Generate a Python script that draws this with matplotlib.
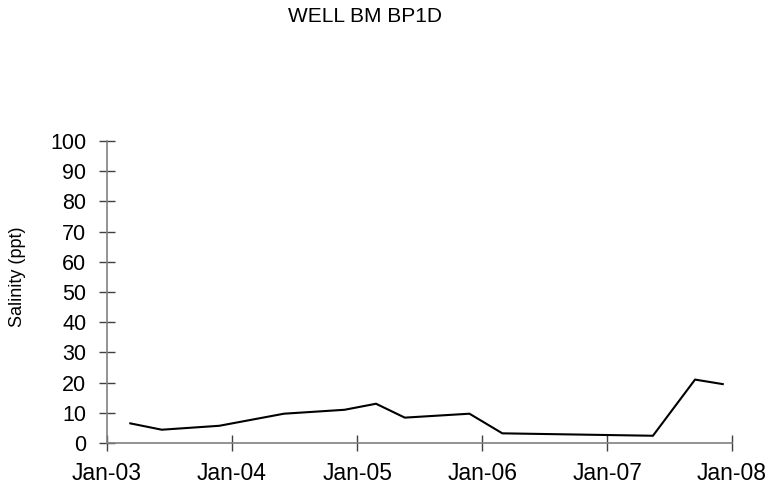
import matplotlib
matplotlib.use("Agg")
import matplotlib.pyplot as plt
import matplotlib.dates as mdates
from datetime import datetime

plt.rcParams['font.family'] = ['Liberation Sans', 'DejaVu Sans']

dates = ["2003-03-10", "2003-06-10", "2003-11-25", "2004-06-01", "2004-11-25",
         "2005-02-25", "2005-05-20", "2005-11-25", "2006-03-01", "2007-05-15",
         "2007-09-15", "2007-12-05"]
salinity = [6.5, 4.4, 5.7, 9.7, 11.0, 13.0, 8.4, 9.7, 3.2, 2.4, 21.0, 19.5]
title = "WELL BM BP1D"
ylabel = "Salinity (ppt)"

x = [datetime.strptime(d, "%Y-%m-%d") for d in dates]

fig = plt.figure(figsize=(7.72, 4.91), dpi=100)
ax = fig.add_axes([107/772, 48/491, 625/772, 302/491])
ax.plot(x, salinity, color="black", lw=1.5)

ax.set_xlim(datetime(2003, 1, 1), datetime(2008, 1, 1))
ax.set_ylim(0, 100)
ax.set_yticks(range(0, 101, 10))
ax.xaxis.set_major_locator(mdates.YearLocator())
ax.xaxis.set_major_formatter(mdates.DateFormatter('%b-%y'))

for s in ["top", "right"]:
    ax.spines[s].set_visible(False)
for s in ["left", "bottom"]:
    ax.spines[s].set_color("#808080")
    ax.spines[s].set_linewidth(1.2)
ax.tick_params(axis="both", direction="inout", length=12, width=1, color="#404040")
ax.tick_params(axis="y", labelsize=15.5, pad=9)
ax.tick_params(axis="x", labelsize=16.5, pad=8)
fig.text(18/772, 1 - 277/491, ylabel, rotation=90, ha="center", va="center", fontsize=13)
fig.text(365/772, 1 - 17/491, title, ha="center", va="center", fontsize=15)

fig.savefig("out.png", dpi=100)
